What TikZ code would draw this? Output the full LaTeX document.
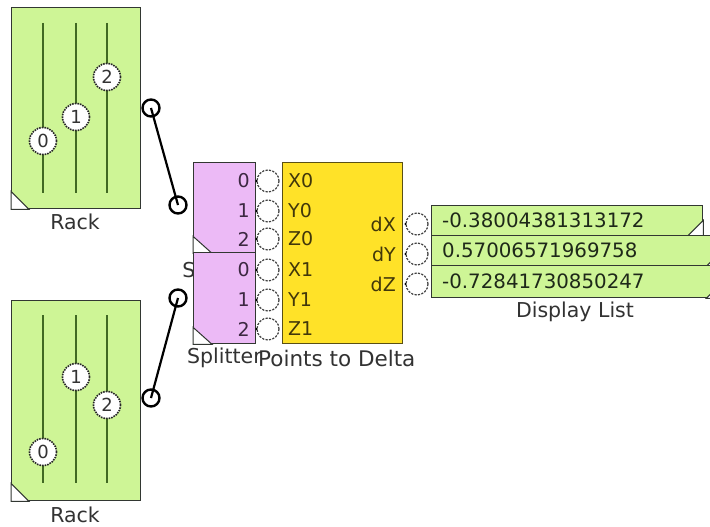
\documentclass[tikz,border=0pt]{standalone}
\usepackage{fontspec}
\setmainfont{DejaVu Sans}
\definecolor{rackgreen}{RGB}{206,245,150}
\definecolor{boxborder}{RGB}{50,55,50}
\definecolor{slidercol}{RGB}{65,105,35}
\definecolor{splitpurple}{RGB}{236,186,246}
\definecolor{deltayellow}{RGB}{255,226,40}
\definecolor{yellowborder}{RGB}{90,80,20}
\definecolor{lbltext}{RGB}{50,50,50}
\definecolor{porttext}{RGB}{65,55,10}
\definecolor{splittext}{RGB}{60,40,65}
\definecolor{disptext}{RGB}{30,40,25}
\begin{document}
\begin{tikzpicture}[x=1pt,y=-1pt,
  rackbox/.style={draw=boxborder,fill=rackgreen,line width=1.3pt,inner sep=0pt,anchor=north west},
  splitbox/.style={draw=boxborder,fill=splitpurple,line width=1.3pt,inner sep=0pt,anchor=north west,minimum width=62pt,minimum height=90pt},
  deltabox/.style={draw=yellowborder,fill=deltayellow,line width=1.3pt,inner sep=0pt,anchor=north west},
  disprow/.style={draw=boxborder,fill=rackgreen,line width=1.3pt,inner sep=0pt,anchor=north west,minimum height=30pt},
  slider/.style={draw=slidercol,line width=2.8pt},
  knob/.style={circle,fill=white,draw=black!85,densely dotted,line width=1.6pt,minimum size=27pt,inner sep=0pt,font=\fontsize{18}{18}\selectfont,text=black!80},
  port/.style={circle,fill=white,draw=black!75,dash pattern=on 2.2pt off 1.3pt,line width=1.2pt,minimum size=22pt,inner sep=0pt},
  conn/.style={circle,draw=black,line width=2.4pt,minimum size=17pt,inner sep=0pt},
  wire/.style={draw=black,line width=2.2pt},
  tri/.style={draw=boxborder,fill=white,line width=1pt},
  lbl/.style={font=\fontsize{20.5}{20.5}\selectfont,text=lbltext,inner sep=0pt},
  plbl/.style={font=\fontsize{19}{19}\selectfont,text=porttext,inner sep=0pt},
  slbl/.style={font=\fontsize{19}{19}\selectfont,text=splittext,inner sep=0pt},
  dlbl/.style={font=\fontsize{19.8}{19.8}\selectfont,text=disptext,inner sep=0pt,anchor=west}
]
\useasboundingbox (0,0) rectangle (710,527);
\clip (0,0) rectangle (710,527);
\fill[white] (0,0) rectangle (710,527);

% ---------- Rack 1 ----------
\node[rackbox,minimum width=129pt,minimum height=201pt] (rack1) at (11,7) {};
\draw[slider] (43,23) -- (43,193);
\draw[slider] (76,23) -- (76,193);
\draw[slider] (107,23) -- (107,193);
\node[knob] (ka0) at (43,141) {0};
\node[knob] (ka1) at (76,117) {1};
\node[knob] (ka2) at (107,77) {2};
\draw[tri] (rack1.south west) -- ++(0,-18) -- ++(18,18) -- cycle;
\node[lbl] (rack1lbl) at (75,222) {Rack};

% ---------- Rack 2 ----------
\node[rackbox,minimum width=129pt,minimum height=200pt] (rack2) at (11,300) {};
\draw[slider] (43,315) -- (43,483);
\draw[slider] (76,315) -- (76,483);
\draw[slider] (107,315) -- (107,483);
\node[knob] (kb0) at (43,452) {0};
\node[knob] (kb1) at (76,377) {1};
\node[knob] (kb2) at (107,405) {2};
\draw[tri] (rack2.south west) -- ++(0,-18) -- ++(18,18) -- cycle;
\node[lbl] (rack2lbl) at (75,515) {Rack};

% ---------- Splitters ----------
\node[lbl] (split1lbl) at (189,270) {S};
\node[splitbox] (split1) at (193,162) {};
\draw[tri] (split1.south west) -- ++(0,-17) -- ++(19,17) -- cycle;
\node[splitbox,minimum height=91pt] (split2) at (193,252) {};
\draw[tri] (split2.south west) -- ++(0,-17) -- ++(19,17) -- cycle;
\node[slbl,anchor=east] (s10) at (250,181) {0};
\node[slbl,anchor=east] (s11) at (250,211) {1};
\node[slbl,anchor=east] (s12) at (250,239) {2};
\node[slbl,anchor=east] (s20) at (250,270) {0};
\node[slbl,anchor=east] (s21) at (250,300) {1};
\node[slbl,anchor=east] (s22) at (250,329) {2};
\node[lbl,anchor=west] (split2lbl) at (187,358) {Splitter};

% ---------- Points to Delta ----------
\node[deltabox,minimum width=120pt,minimum height=181pt] (delta) at (282,162) {};
\node[plbl,anchor=west] (x0) at (288,181) {X0};
\node[plbl,anchor=west] (y0) at (288,211) {Y0};
\node[plbl,anchor=west] (z0) at (288,239) {Z0};
\node[plbl,anchor=west] (x1) at (288,270) {X1};
\node[plbl,anchor=west] (y1) at (288,300) {Y1};
\node[plbl,anchor=west] (z1) at (288,329) {Z1};
\node[plbl,anchor=east] (dx) at (396,224) {dX};
\node[plbl,anchor=east] (dy) at (396,254) {dY};
\node[plbl,anchor=east] (dz) at (396,284) {dZ};
\node[lbl,anchor=west,font=\fontsize{21.5}{21.5}\selectfont] (deltalbl) at (258,358) {Points to Delta};

% ports between splitter and delta
\foreach \n/\yy in {p0/181,p1/211,p2/239,p3/270,p4/300,p5/329}{
  \node[port] (\n) at (268,\yy) {};
  \fill[black] (256.5,\yy) circle (1.1pt);
}
% output ports of delta
\foreach \n/\yy in {q0/224,q1/254,q2/284}{
  \node[port] (\n) at (417,\yy) {};
  \fill[black] (405.5,\yy) circle (1.1pt);
}

% ---------- Display List ----------
\node[disprow,minimum width=271pt] (row1) at (431,205) {};
\draw[tri] (row1.south east) -- ++(0,-16) -- ++(-16,16) -- cycle;
\node[disprow,minimum width=290pt] (row2) at (431,235) {};
\draw[tri] (row2.south east) -- ++(0,-16) -- ++(-16,16) -- cycle;
\node[disprow,minimum width=290pt,minimum height=32pt] (row3) at (431,265) {};
\draw[tri] (row3.south east) -- ++(0,-16) -- ++(-16,16) -- cycle;
\node[dlbl] (v1) at (442,220) {-0.38004381313172};
\node[dlbl] (v2) at (442,250) {0.57006571969758};
\node[dlbl] (v3) at (442,281) {-0.72841730850247};
\node[lbl] (displbl) at (575,312) {Display List};

% ---------- connectors ----------
\node[conn] (r1out) at (151,108) {};
\node[conn] (s1in) at (178,205) {};
\node[conn] (r2out) at (151,398) {};
\node[conn] (s2in) at (178,298) {};
\draw[wire] (r1out.center) -- (s1in.center);
\draw[wire] (r2out.center) -- (s2in.center);
\end{tikzpicture}
\end{document}
